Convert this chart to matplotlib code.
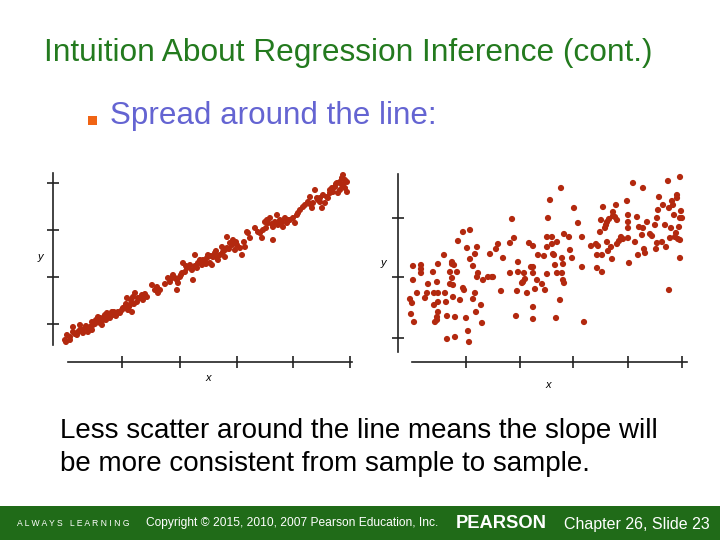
import matplotlib
matplotlib.use("Agg")
import matplotlib.pyplot as plt
from matplotlib.patches import Rectangle

plt.rcParams['font.family'] = ['Liberation Sans', 'DejaVu Sans']

# ---------------- data (arbitrary units) ----------------
left_x = [35, 37, 36, 40, 43, 43, 47, 48, 52, 53, 50, 55, 58, 60, 62, 62, 63, 67, 68, 70,
          72, 73, 75, 77, 78, 80, 82, 83, 87, 88, 90, 92, 93, 95, 97, 98, 100, 102, 103, 105,
          107, 108, 112, 113, 117, 122, 125, 128, 127, 138, 140, 142, 143, 147, 147, 148, 150, 152, 153, 155,
          157, 158, 160, 163, 162, 165, 167, 168, 172, 173, 175, 177, 178, 180, 182, 183, 185, 187, 188, 190,
          192, 193, 195, 197, 197, 200, 202, 203, 205, 207, 210, 212, 215, 217, 218, 225, 230, 232, 233, 235,
          237, 238, 240, 243, 243, 245, 247, 248, 250, 252, 253, 255, 257, 258, 263, 265, 267, 268, 273, 275,
          278, 280, 282, 283, 285, 287, 288, 290, 292, 293, 295, 297, 298, 300, 302, 303, 305, 307, 308, 310,
          312, 312, 313, 315, 317, 317, 315, 313,
          40, 45, 50, 56, 58, 65, 66, 70, 74, 76, 79, 84, 86, 94, 96, 99, 101, 104, 110, 115,
          130, 135, 145, 151, 156, 165, 170, 176, 181, 186, 195, 199, 206, 214, 220, 228, 236, 242, 250, 260,
          270, 280, 290, 300, 306, 310]
left_y = [30, 35, 28, 33, 38, 43, 35, 38, 40, 37, 45, 42, 42, 43, 40, 48, 45, 48, 53, 52,
          45, 50, 55, 57, 53, 52, 58, 55, 57, 58, 57, 60, 62, 63, 72, 60, 65, 58, 73, 77,
          68, 72, 75, 70, 73, 85, 80, 77, 83, 92, 88, 92, 95, 90, 80, 87, 93, 97, 107, 98,
          102, 103, 105, 90, 100, 115, 102, 107, 105, 110, 108, 112, 115, 107, 105, 113, 117, 112, 110, 115,
          123, 118, 113, 133, 122, 127, 125, 130, 120, 125, 122, 115, 123, 138, 137, 142, 137, 132, 140, 148,
          150, 147, 152, 130, 143, 148, 155, 145, 150, 148, 143, 152, 147, 150, 152, 147, 155, 157, 163, 165,
          168, 173, 162, 167, 180, 172, 170, 168, 162, 175, 167, 173, 172, 177, 182, 178, 183, 187, 177, 180,
          192, 185, 195, 182, 188, 178, 190, 185,
          30, 36, 40, 44, 38, 46, 50, 47, 53, 50, 55, 58, 54, 62, 66, 63, 70, 66, 72, 76,
          80, 86, 92, 95, 104, 104, 110, 106, 114, 119, 120, 121, 128, 128, 132, 138, 142, 146, 148, 150,
          160, 166, 172, 180, 186, 188]

right_x = [43, 43, 40, 42, 41, 44, 47, 51, 51, 51, 55, 58, 57, 63, 64, 64, 65, 67, 67, 68,
           68, 68, 68, 67, 74, 75, 76, 77, 77, 80, 80, 82, 82, 82, 83, 83, 84, 85, 85, 87,
           88, 90, 93, 93, 94, 96, 97, 98, 99, 100, 100, 103, 103, 105, 105, 106, 107, 107, 108, 112,
           111, 113,
           118, 120, 122, 123, 126, 128, 131, 133, 140, 140, 142, 144, 146, 147, 148, 148, 152, 153,
           154, 155, 157, 159, 161, 163, 163, 163, 163, 163, 165, 167, 168, 172, 174, 175, 177, 177,
           177, 178, 180, 182, 182, 183, 184, 185, 187, 186, 187, 190, 191, 192, 192, 193, 193, 194,
           194, 199, 200, 202, 204, 208, 212, 212, 214,
           221, 226, 227, 227, 228, 230, 231, 232, 232, 233, 235, 236, 237, 237, 238, 239, 241, 242,
           243, 243, 245, 246, 247, 247, 249, 251, 253, 257, 258, 258, 258, 258, 259, 263, 265, 267,
           268, 269, 272, 273, 273, 274, 275, 277, 280, 282, 285, 286, 287, 287, 288, 289, 292, 293,
           295, 296, 298, 299, 299, 300, 301, 302, 303, 304, 305, 306, 307, 307, 308, 309, 310, 310,
           311, 310, 310, 312]
right_y = [104, 90, 71, 67, 56, 48, 77, 105, 101, 97, 72, 86, 77, 98, 77, 65, 48, 50, 88, 106,
           77, 68, 58, 53, 115, 77, 68, 54, 31, 98, 86, 106, 108, 92, 73, 85, 105, 33, 53, 98,
           129, 70, 138, 82, 80, 52, 122, 39, 28, 140, 111, 71, 104, 116, 77, 58, 123, 93, 97, 47,
           65, 90,
           93, 116, 93, 93, 121, 126, 79, 112, 97, 127, 151, 132, 54, 79, 108, 98, 87, 88,
           97, 91, 77, 127, 103, 103, 124, 97, 63, 51, 81, 90, 115, 86, 114, 80, 133, 96,
           123, 152, 170, 133, 126, 116, 115, 105, 128, 52, 97, 70, 182, 97, 112, 106, 90, 87,
           136, 133, 120, 112, 162, 147, 133, 103, 48,
           124, 126, 102, 115, 124, 138, 150, 115, 98, 163, 142, 145, 128, 148, 119, 151, 123, 111,
           158, 154, 153, 165, 150, 126, 129, 133, 131, 169, 155, 148, 142, 132, 107, 187, 128, 153,
           115, 143, 135, 182, 142, 121, 117, 148, 136, 134, 145, 121, 152, 127, 160, 173, 128, 165,
           145, 123, 189, 162, 80, 132, 142, 169, 165, 155, 133, 137, 175, 172, 131, 143, 193, 152,
           159, 112, 130, 152]

left_xticks = [92, 150, 207, 263, 320]
left_yticks = [46, 93, 140, 187]
right_xticks = [96, 150, 203, 258, 312]
right_yticks = [32, 93, 152]

title = "Intuition About Regression Inference (cont.)"
bullet = "Spread around the line:"
body = ["Less scatter around the line means the slope will",
        "be more consistent from sample to sample."]

# ---------------- figure ----------------
W, H = 720, 540
fig = plt.figure(figsize=(W / 100, H / 100), dpi=100)
fig.patch.set_facecolor('white')

def fx(px):
    return px / W

def fy(py):
    return 1 - py / H

DOT = '#b3290f'

def style_axes(ax, xlim, ylim, lb, bb, xt, yt, grey_tick=None):
    ax.set_xlim(*xlim)
    ax.set_ylim(*ylim)
    for s in ['top', 'right']:
        ax.spines[s].set_visible(False)
    ax.spines['left'].set_bounds(*lb)
    ax.spines['bottom'].set_bounds(*bb)
    for s in ['left', 'bottom']:
        ax.spines[s].set_color('#222222')
        ax.spines[s].set_linewidth(1.2)
    ax.set_xticks(xt)
    ax.set_yticks(yt)
    ax.set_xticklabels([])
    ax.set_yticklabels([])
    ax.tick_params(direction='inout', length=9, width=1.2, color='#222222')
    ax.patch.set_alpha(0)
    if grey_tick is not None:
        ax.get_xticklines()[2 * grey_tick].set_color('#b0b0b0')

# left chart
ax1 = fig.add_axes([fx(53), fy(362), fx(352) - fx(53), fy(173) - fy(362)])
style_axes(ax1, (23, 322), (8, 197), (25, 197), (38, 322), left_xticks, left_yticks)
ax1.scatter(left_x, left_y, s=19, color=DOT, edgecolors='none', clip_on=False, zorder=3)
ax1.text(10, 113, 'y', style='italic', fontsize=8, ha='center', va='center')
ax1.text(178, -8, 'x', style='italic', fontsize=8, ha='center', va='center')

# right chart
ax2 = fig.add_axes([fx(398), fy(362), fx(690) - fx(398), fy(174) - fy(362)])
style_axes(ax2, (28, 320), (8, 196), (18, 196), (42, 317), right_xticks, right_yticks, grey_tick=1)
ax2.scatter(right_x, right_y, s=20, color=DOT, edgecolors='none', clip_on=False, zorder=3)
ax2.text(13, 107, 'y', style='italic', fontsize=8, ha='center', va='center')
ax2.text(178, -15, 'x', style='italic', fontsize=8, ha='center', va='center')

# texts
fig.text(fx(44), fy(61), title, fontsize=22.8, color='#237a1e', ha='left', va='baseline')
fig.patches.append(Rectangle((fx(88), fy(125)), fx(9), fy(116) - fy(125),
                             transform=fig.transFigure, facecolor='#f06414', edgecolor='none'))
fig.text(fx(110), fy(124), bullet, fontsize=22.6, color='#6464d2', ha='left', va='baseline')
fig.text(fx(60), fy(438), body[0], fontsize=20, color='black', ha='left', va='baseline')
fig.text(fx(60), fy(471), body[1], fontsize=20, color='black', ha='left', va='baseline')

# footer
fig.patches.append(Rectangle((0, 0), 1, fy(506), transform=fig.transFigure,
                             facecolor='#206b18', edgecolor='none'))
fig.text(fx(17), fy(523), 'A L W A Y S   L E A R N I N G', fontsize=6.2,
         color='white', ha='left', va='center')
fig.text(fx(146), fy(523), 'Copyright © 2015, 2010, 2007 Pearson Education, Inc.', fontsize=8.65,
         color='white', ha='left', va='center')
fig.text(fx(456), fy(523), 'PEARSON', fontsize=13.2, fontweight='bold', color='white',
         ha='left', va='center')
fig.text(fx(564), fy(524), 'Chapter 26, Slide 23', fontsize=11.5, color='white',
         ha='left', va='center')

fig.savefig('out.png', dpi=100, facecolor='white')
